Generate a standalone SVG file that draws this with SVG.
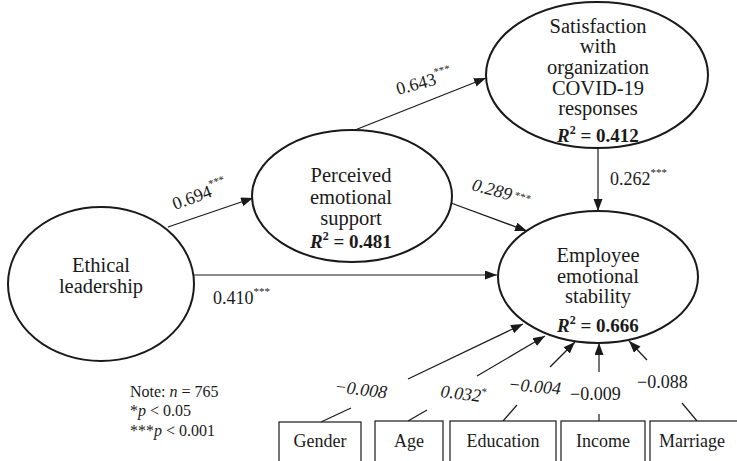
<svg xmlns="http://www.w3.org/2000/svg" width="737" height="461" viewBox="0 0 737 461">
<style>
  .node { fill: #fff; stroke: #1a1a1a; stroke-width: 2; }
  .box { fill: #fff; stroke: #1a1a1a; stroke-width: 1.2; }
  .t { font-family: "Liberation Serif", "Times New Roman", serif; fill: #1a1a1a; }
  .nt { font-size: 20.5px; text-anchor: middle; }
  .r2 { font-size: 19px; font-weight: bold; text-anchor: middle; }
  .lbl { font-size: 18px; }
  .sup { font-size: 11px; }
  .bx { font-size: 18px; text-anchor: middle; }
  .note { font-size: 16px; }
  .c { stroke: #1a1a1a; stroke-width: 1.2; fill: none; }
  .a { marker-end: url(#arr); }
</style>
<defs>
  <marker id="arr" markerUnits="userSpaceOnUse" markerWidth="13" markerHeight="10" refX="12" refY="4.5" orient="auto">
    <path d="M0,0 L12,4.5 L0,9 z" fill="#1a1a1a"/>
  </marker>
</defs>
<rect width="737" height="461" fill="#fff"/>

<g id="connectors">
  <line class="c a" x1="168" y1="227" x2="253" y2="198"/>
  <line class="c a" x1="194" y1="275" x2="497" y2="275"/>
  <line class="c a" x1="355" y1="130" x2="486" y2="78"/>
  <line class="c a" x1="451" y1="203" x2="527" y2="231"/>
  <line class="c a" x1="598" y1="148" x2="598" y2="211"/>
  <line class="c" x1="321" y1="422" x2="351" y2="408"/>
  <line class="c a" x1="408" y1="379" x2="523" y2="324"/>
  <line class="c" x1="408" y1="421" x2="427" y2="410"/>
  <line class="c a" x1="477" y1="376" x2="545" y2="336"/>
  <line class="c" x1="503" y1="421" x2="517" y2="405"/>
  <line class="c a" x1="550" y1="367" x2="575" y2="342"/>
  <line class="c" x1="599" y1="421" x2="599" y2="414"/>
  <line class="c a" x1="599" y1="372" x2="599" y2="343"/>
  <line class="c" x1="697" y1="421" x2="682" y2="403"/>
  <line class="c a" x1="647" y1="360" x2="629" y2="341"/>
</g>

<g id="ethical">
  <ellipse class="node" cx="101" cy="284" rx="93" ry="77"/>
  <text class="t nt" x="101" y="272">Ethical</text>
  <text class="t nt" x="101" y="293">leadership</text>
</g>

<g id="perceived">
  <ellipse class="node" cx="352" cy="196" rx="100" ry="66"/>
  <text class="t nt" x="351" y="182">Perceived</text>
  <text class="t nt" x="351" y="204">emotional</text>
  <text class="t nt" x="351" y="225">support</text>
  <text class="t r2" x="351" y="248"><tspan font-style="italic">R</tspan><tspan font-size="12px" dy="-8">2</tspan><tspan dy="8"> = 0.481</tspan></text>
</g>

<g id="satisfaction">
  <ellipse class="node" cx="597" cy="75" rx="111" ry="73"/>
  <text class="t nt" x="598" y="33">Satisfaction</text>
  <text class="t nt" x="598" y="53">with</text>
  <text class="t nt" x="598" y="74">organization</text>
  <text class="t nt" x="598" y="95">COVID-19</text>
  <text class="t nt" x="598" y="115">responses</text>
  <text class="t r2" x="598" y="142"><tspan font-style="italic">R</tspan><tspan font-size="12px" dy="-8">2</tspan><tspan dy="8"> = 0.412</tspan></text>
</g>

<g id="employee">
  <ellipse class="node" cx="598" cy="277" rx="100" ry="66"/>
  <text class="t nt" x="598" y="262">Employee</text>
  <text class="t nt" x="598" y="283">emotional</text>
  <text class="t nt" x="598" y="303">stability</text>
  <text class="t r2" x="598" y="332"><tspan font-style="italic">R</tspan><tspan font-size="12px" dy="-8">2</tspan><tspan dy="8"> = 0.666</tspan></text>
</g>

<g id="gender">
  <rect class="box" x="279" y="422" width="82" height="50"/>
  <text class="t bx" x="320" y="447">Gender</text>
</g>
<g id="age">
  <rect class="box" x="375" y="421" width="68" height="50"/>
  <text class="t bx" x="409" y="447">Age</text>
</g>
<g id="education">
  <rect class="box" x="450" y="421" width="106" height="50"/>
  <text class="t bx" x="503" y="447">Education</text>
</g>
<g id="income">
  <rect class="box" x="561" y="421" width="84" height="50"/>
  <text class="t bx" x="603" y="447">Income</text>
</g>
<g id="marriage">
  <rect class="box" x="650" y="421" width="95" height="50"/>
  <text class="t bx" x="692" y="447">Marriage</text>
</g>

<g id="labels">
  <text class="t lbl" transform="translate(175,210) rotate(-20)">0.694<tspan class="sup" dy="-9">***</tspan></text>
  <text class="t lbl" transform="translate(398,95) rotate(-15)">0.643<tspan class="sup" dy="-9">***</tspan></text>
  <text class="t lbl" font-style="italic" transform="translate(471,190) rotate(15)">0.289<tspan class="sup" font-style="normal" dx="3" dy="-3">***</tspan></text>
  <text class="t lbl" x="610" y="185">0.262<tspan class="sup" dy="-9">***</tspan></text>
  <text class="t lbl" x="213" y="304">0.410<tspan class="sup" dy="-9">***</tspan></text>
  <text class="t lbl" font-style="italic" transform="translate(334,392) rotate(7)">−0.008</text>
  <text class="t lbl" font-style="italic" transform="translate(440,397) rotate(7)">0.032<tspan class="sup" font-style="normal" dy="-7">*</tspan></text>
  <text class="t lbl" font-style="italic" transform="translate(508,390) rotate(5)">−0.004</text>
  <text class="t lbl" x="570" y="400">−0.009</text>
  <text class="t lbl" x="637" y="388">−0.088</text>
</g>

<g id="note">
  <text class="t note" x="130" y="397">Note: <tspan font-style="italic">n</tspan> = 765</text>
  <text class="t note" x="130" y="416">*<tspan font-style="italic">p</tspan> &lt; 0.05</text>
  <text class="t note" x="130" y="436">***<tspan font-style="italic">p</tspan> &lt; 0.001</text>
</g>
</svg>
